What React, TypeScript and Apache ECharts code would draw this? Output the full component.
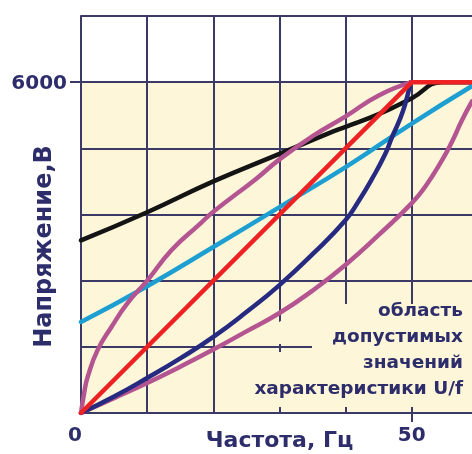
import React, { useEffect, useRef } from "react";
import * as echarts from "echarts";

// Frequency (Hz) / voltage (V) samples
const blackF = [0, 10, 20, 30, 37.5, 40, 45, 50, 54.6, 59.1];
const blackU = [3130, 3640, 4200, 4700, 5076, 5190, 5420, 5710, 6000, 6000];

const cyanF = [0, 10, 20, 30, 40, 50, 59.1];
const cyanU = [1650, 2300, 3010, 3735, 4460, 5250, 5930];

const redF = [0, 50, 59.1];
const redU = [0, 6000, 6000];

const navyF = [0, 5, 10, 15, 20, 25, 30, 35, 40, 42, 44, 46, 47, 48, 49, 49.8];
const navyU = [0, 300, 635, 990, 1380, 1830, 2320, 2880, 3500, 3850, 4250, 4700, 5000, 5270, 5600, 6000];

const pinkUpF = [0, 0.5, 1, 2.5, 4.6, 7, 10, 13.7, 17.9, 20, 26.5, 30, 35, 40, 45, 50];
const pinkUpU = [0, 380, 650, 1140, 1560, 1990, 2400, 2955, 3420, 3650, 4250, 4600, 5020, 5380, 5760, 6000];

const pinkLowF = [0, 5, 10, 15, 20, 25, 30, 35, 40, 45, 50, 52, 54.6, 56, 57.6, 59.1];
const pinkLowU = [0, 270, 544, 840, 1150, 1480, 1813, 2220, 2690, 3230, 3807, 4100, 4590, 4900, 5312, 5650];

const xLabels = [0, 50];
const xTicks = [50];
const yLabels = [6000];

const GRID = "#3b3a66";
const CREAM = "#fdf6d8";
const TEXT = "#2d2d6b";
const FONT = "DejaVu Sans";

const pairs = (xs: number[], ys: number[]) => xs.map((x, i) => [x, ys[i]]);

export default function App() {
  const ref = useRef<HTMLDivElement>(null);
  useEffect(() => {
    const chart = echarts.init(ref.current!, null, { renderer: "svg" });
    const line = (name: string, xs: number[], ys: number[], color: string, smooth: number | boolean, z: number, width = 4.5) => ({
      name,
      type: "line",
      data: pairs(xs, ys),
      showSymbol: false,
      symbol: "none",
      smooth,
      z,
      silent: true,
      lineStyle: { color, width, cap: "round", join: "round" },
    });
    const xBase = { type: "value", min: 0, max: 59.1, interval: 10 };
    const yBase = { type: "value", min: 0, max: 7200, interval: 1200 };
    chart.setOption({
      animation: false,
      grid: { left: 81, right: 0, top: 16, bottom: 41, containLabel: false, outerBoundsMode: "none" },
      xAxis: [
        {
          ...xBase,
          name: "Частота, Гц",
          nameLocation: "middle",
          nameGap: 15,
          nameTextStyle: { fontFamily: FONT, fontWeight: "bold", fontSize: 22, color: TEXT, padding: [0, 0, 0, 6] },
          axisLine: { show: true, lineStyle: { color: GRID, width: 2 } },
          axisTick: { show: false },
          axisLabel: { show: false },
          splitLine: { show: true, showMaxLine: false, lineStyle: { color: GRID, width: 2 } },
        },
        {
          ...xBase,
          position: "bottom",
          axisLine: { show: false },
          axisTick: { show: true, customValues: xTicks, length: 9, lineStyle: { color: GRID, width: 2 } },
          axisLabel: {
            customValues: xLabels,
            margin: 11,
            formatter: (v: number) => (v === 0 ? "{z|0}" : "{n|" + v + "}"),
            rich: {
              z: { fontFamily: FONT, fontWeight: "bold", fontSize: 20, color: TEXT, padding: [0, 12, 0, 0] },
              n: { fontFamily: FONT, fontWeight: "bold", fontSize: 20, color: TEXT },
            },
          },
          splitLine: { show: false },
        },
      ],
      yAxis: [
        {
          ...yBase,
          name: "Напряжение,В",
          nameLocation: "middle",
          nameGap: 26,
          nameRotate: 90,
          nameTextStyle: { fontFamily: FONT, fontWeight: "bold", fontSize: 24, color: TEXT, padding: [0, 64, 0, 0] },
          axisLine: { show: true, lineStyle: { color: GRID, width: 2 } },
          axisTick: { show: false },
          axisLabel: { show: false },
          splitLine: { show: true, lineStyle: { color: GRID, width: 2 } },
          splitArea: { show: true, areaStyle: { color: [CREAM, CREAM, CREAM, CREAM, CREAM, "#ffffff"] } },
        },
        {
          ...yBase,
          position: "left",
          axisLine: { show: false },
          axisTick: { show: true, customValues: yLabels, length: 11, lineStyle: { color: GRID, width: 2 } },
          axisLabel: {
            customValues: yLabels,
            margin: 14,
            formatter: (v: number) => String(v),
            fontFamily: FONT,
            fontWeight: "bold",
            fontSize: 20,
            color: TEXT,
          },
          splitLine: { show: false },
          splitArea: { show: false },
        },
      ],
      graphic: [
        {
          type: "polygon",
          z: 1,
          silent: true,
          shape: {
            points: [
              [240, 407], [240, 372], [256, 352], [312, 352], [312, 344], [268, 344],
              [262, 334], [285, 318], [330, 304], [472, 304], [472, 407],
            ],
          },
          style: { fill: CREAM },
        },
        {
          type: "text",
          z: 10,
          x: 463,
          y: 296,
          style: {
            text: "область\nдопустимых\nзначений\nхарактеристики U/f",
            align: "right",
            verticalAlign: "top",
            lineHeight: 26,
            fill: TEXT,
            font: "bold 18.5px 'DejaVu Sans'",
          },
        },
      ],
      series: [
        line("black", blackF, blackU, "#141414", 0.5, 3),
        line("cyan", cyanF, cyanU, "#1e9fd2", 0.5, 4),
        line("pinkLow", pinkLowF, pinkLowU, "#b45592", 0.5, 5),
        line("navy", navyF, navyU, "#262a80", 0.5, 6),
        line("pinkUp", pinkUpF, pinkUpU, "#b45592", 0.5, 7),
        line("red", redF, redU, "#ee2222", false, 8),
      ],
    });
    return () => chart.dispose();
  }, []);
  return <div ref={ref} style={{ position: "fixed", left: 0, top: 0, width: 472, height: 454 }} />;
}
